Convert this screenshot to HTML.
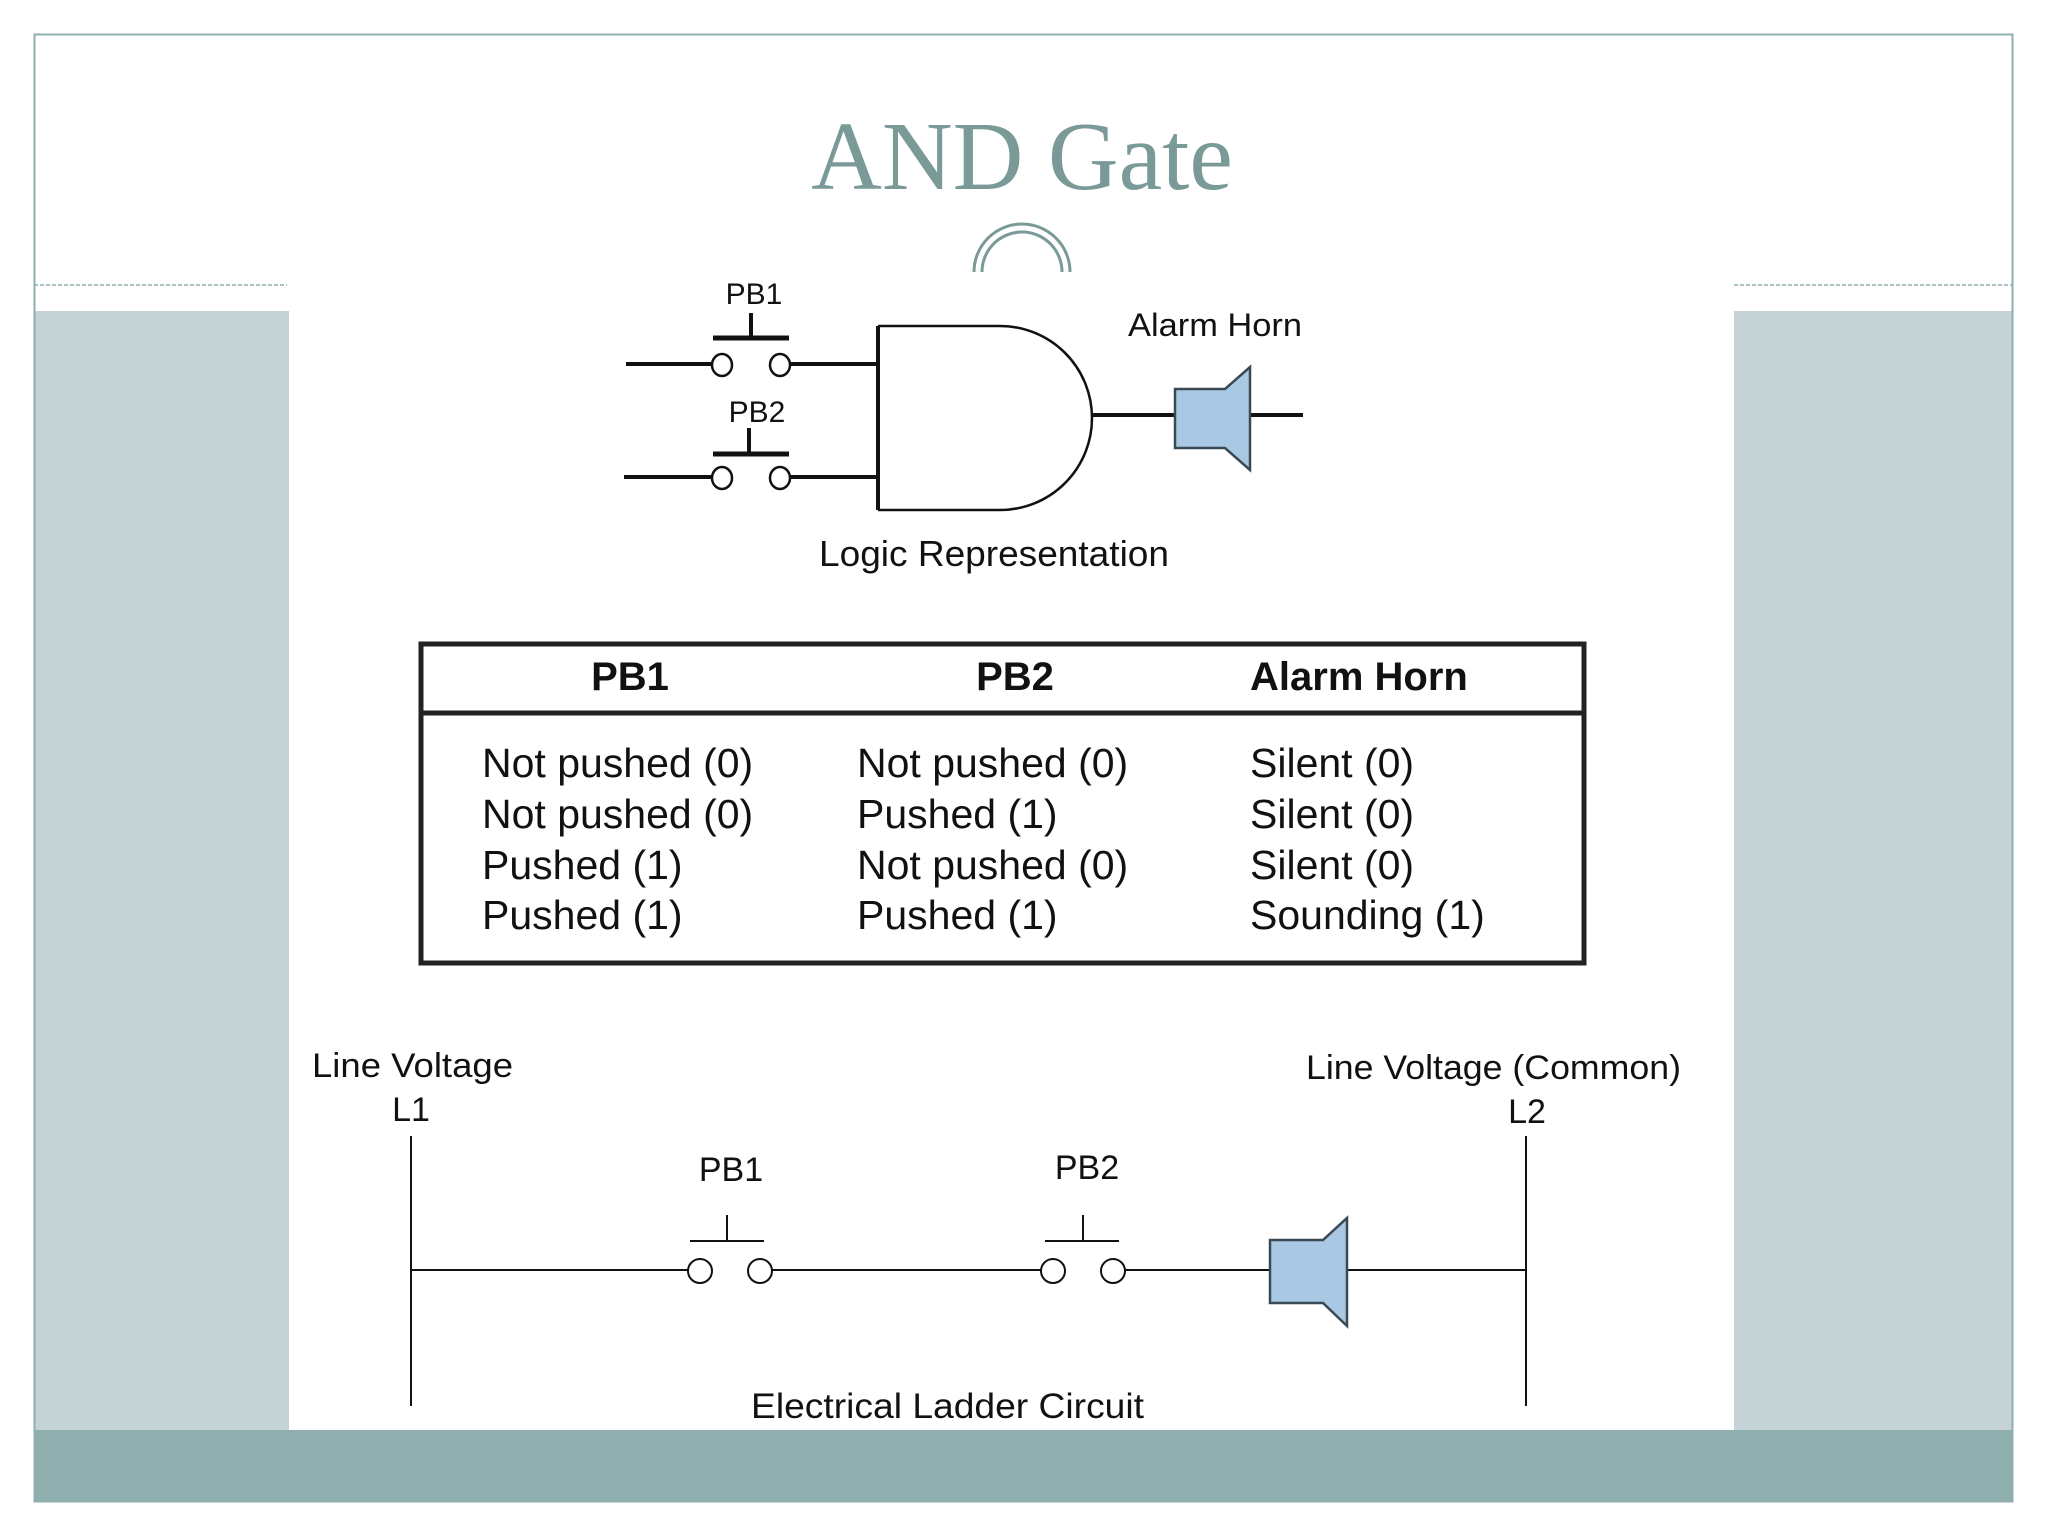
<!DOCTYPE html>
<html><head><meta charset="utf-8"><style>
html,body{margin:0;padding:0;background:#fff}
svg{display:block}
text{font-family:"Liberation Sans",sans-serif;fill:#111}
</style></head><body>
<svg width="2048" height="1536" viewBox="0 0 2048 1536" xmlns="http://www.w3.org/2000/svg">
<rect x="0" y="0" width="2048" height="1536" fill="#fff"/>
<rect x="34" y="311" width="255" height="1119" fill="#c5d3d6"/>
<rect x="1734" y="311" width="279" height="1119" fill="#c5d3d6"/>
<rect x="34" y="1430" width="1979" height="72" fill="#8faeae"/>
<rect x="34.5" y="34.5" width="1978" height="1467" fill="none" stroke="#8faeae" stroke-width="2"/>
<line x1="34" y1="285" x2="287" y2="285" stroke="#8faeae" stroke-width="1.5" stroke-dasharray="4,2"/>
<line x1="1734" y1="285" x2="2013" y2="285" stroke="#8faeae" stroke-width="1.5" stroke-dasharray="4,2"/>
<text x="1022" y="189" text-anchor="middle" style="font-family:'Liberation Serif',serif;font-size:98px;fill:#7a9a98">AND Gate</text>
<path d="M974 272 A48 48 0 0 1 1070 272" fill="none" stroke="#7a9a98" stroke-width="3"/>
<path d="M982 272 A40 40 0 0 1 1062 272" fill="none" stroke="#7a9a98" stroke-width="3"/>

<!-- Logic -->
<g stroke="#111" fill="none">
<line x1="626" y1="364" x2="712" y2="364" stroke-width="4"/>
<line x1="790" y1="364" x2="878" y2="364" stroke-width="4"/>
<ellipse cx="722" cy="365" rx="10" ry="11" stroke-width="2.5"/>
<ellipse cx="780" cy="365" rx="10" ry="11" stroke-width="2.5"/>
<line x1="713" y1="338" x2="789" y2="338" stroke-width="5"/>
<line x1="751" y1="313" x2="751" y2="338" stroke-width="4"/>
<line x1="624" y1="477" x2="712" y2="477" stroke-width="4"/>
<line x1="790" y1="477" x2="878" y2="477" stroke-width="4"/>
<ellipse cx="722" cy="478" rx="10" ry="11" stroke-width="2.5"/>
<ellipse cx="780" cy="478" rx="10" ry="11" stroke-width="2.5"/>
<line x1="713" y1="454" x2="789" y2="454" stroke-width="5"/>
<line x1="749" y1="428" x2="749" y2="454" stroke-width="4"/>
<line x1="878" y1="326" x2="878" y2="510" stroke-width="4"/>
<path d="M878 326 H1000 A92 92 0 0 1 1000 510 H878" stroke-width="2.5"/>
<line x1="1092" y1="415" x2="1175" y2="415" stroke-width="4"/>
<line x1="1250" y1="415" x2="1303" y2="415" stroke-width="4"/>
</g>
<path d="M1175 389 H1225 L1250 367 V470 L1225 448 H1175 Z" fill="#a9c8e3" stroke="#3a4a55" stroke-width="2.5"/>
<text x="754" y="304" text-anchor="middle" font-size="30">PB1</text>
<text x="757" y="422" text-anchor="middle" font-size="30">PB2</text>
<text x="1128" y="336" font-size="32" textLength="174" lengthAdjust="spacingAndGlyphs">Alarm Horn</text>
<text x="819" y="566" font-size="36" textLength="350" lengthAdjust="spacingAndGlyphs">Logic Representation</text>

<!-- Table -->
<rect x="421" y="644" width="1163" height="319" fill="none" stroke="#222" stroke-width="5"/>
<line x1="421" y1="713" x2="1584" y2="713" stroke="#222" stroke-width="5"/>
<g font-size="40" font-weight="bold">
<text x="630" y="690" text-anchor="middle">PB1</text>
<text x="1015" y="690" text-anchor="middle">PB2</text>
<text x="1250" y="690">Alarm Horn</text>
</g>
<g font-size="41">
<text x="482" y="777">Not pushed (0)</text>
<text x="482" y="828">Not pushed (0)</text>
<text x="482" y="879">Pushed (1)</text>
<text x="482" y="929">Pushed (1)</text>
<text x="857" y="777">Not pushed (0)</text>
<text x="857" y="828">Pushed (1)</text>
<text x="857" y="879">Not pushed (0)</text>
<text x="857" y="929">Pushed (1)</text>
<text x="1250" y="777">Silent (0)</text>
<text x="1250" y="828">Silent (0)</text>
<text x="1250" y="879">Silent (0)</text>
<text x="1250" y="929">Sounding (1)</text>
</g>

<!-- Ladder -->
<g stroke="#111" fill="none" stroke-width="2">
<line x1="411" y1="1136" x2="411" y2="1406"/>
<line x1="1526" y1="1136" x2="1526" y2="1406"/>
<line x1="411" y1="1270" x2="688" y2="1270"/>
<line x1="772" y1="1270" x2="1041" y2="1270"/>
<line x1="1125" y1="1270" x2="1270" y2="1270"/>
<line x1="1347" y1="1270" x2="1526" y2="1270"/>
<ellipse cx="700" cy="1271" rx="12" ry="12"/>
<ellipse cx="760" cy="1271" rx="12" ry="12"/>
<ellipse cx="1053" cy="1271" rx="12" ry="12"/>
<ellipse cx="1113" cy="1271" rx="12" ry="12"/>
<line x1="690" y1="1241" x2="764" y2="1241"/>
<line x1="727" y1="1215" x2="727" y2="1241"/>
<line x1="1045" y1="1241" x2="1119" y2="1241"/>
<line x1="1083" y1="1215" x2="1083" y2="1241"/>
</g>
<path d="M1270 1240 H1323 L1347 1218 V1326 L1323 1303 H1270 Z" fill="#a9c8e3" stroke="#3a4a55" stroke-width="2.5"/>
<g font-size="34">
<text x="312" y="1077" textLength="201" lengthAdjust="spacingAndGlyphs">Line Voltage</text>
<text x="411" y="1121" text-anchor="middle">L1</text>
<text x="1306" y="1079" textLength="375" lengthAdjust="spacingAndGlyphs">Line Voltage (Common)</text>
<text x="1527" y="1123" text-anchor="middle">L2</text>
<text x="731" y="1181" text-anchor="middle">PB1</text>
<text x="1087" y="1179" text-anchor="middle">PB2</text>
<text x="751" y="1418" font-size="35" textLength="393" lengthAdjust="spacingAndGlyphs">Electrical Ladder Circuit</text>
</g>
</svg>
</body></html>
